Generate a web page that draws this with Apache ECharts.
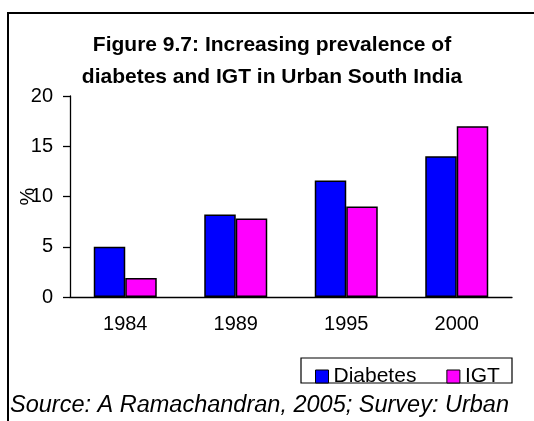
<!DOCTYPE html>
<html><head><meta charset="utf-8">
<script src="https://cdn.jsdelivr.net/npm/echarts@6/dist/echarts.min.js"></script>
<style>html,body{margin:0;padding:0;background:#fff}#c{width:534px;height:421px}</style>
</head><body><div id="c"></div>
<script>
const categories = ['1984', '1989', '1995', '2000'];
const diabetes = [5.0, 8.2, 11.6, 14.0];
const igt = [1.9, 7.8, 9.0, 17.0];
const seriesNames = ['Diabetes', 'IGT'];
const titleLines = ['Figure 9.7: Increasing prevalence of', 'diabetes and IGT in Urban South India'];
const sourceText = 'Source: A Ramachandran, 2005; Survey: Urban';

const chart = echarts.init(document.getElementById('c'));
const F = 'Liberation Sans, Arial, sans-serif';
chart.setOption({
  animation: false,
  backgroundColor: '#fff',
  title: {
    text: titleLines.join('\n'),
    left: 267, top: 24, textAlign: 'center',
    textStyle: { fontFamily: F, fontSize: 21, fontWeight: 'bold', color: '#000', lineHeight: 32 }
  },
  graphic: [
    { type: 'rect', shape: { x: 8, y: 13, width: 600, height: 500 }, style: { fill: 'none', stroke: '#000', lineWidth: 2 }, silent: true },
    { type: 'text', left: 10, top: 394, style: { text: sourceText, font: 'italic 23.5px ' + F, fill: '#000' } },
    { type: 'rect', shape: { x: 301, y: 358, width: 211, height: 25 }, style: { fill: '#fff', stroke: '#000', lineWidth: 1.2 }, silent: true, z: 0 }
  ],
  legend: {
    data: seriesNames,
    left: 310, top: 361,
    itemWidth: 13, itemHeight: 13, itemGap: 30,
    icon: 'rect',
    textStyle: { fontFamily: F, fontSize: 21, color: '#000' },
    itemStyle: { borderColor: '#000', borderWidth: 1 },
    z: 5
  },
  grid: { left: 70, right: 22, top: 96, bottom: 124, containLabel: false, outerBoundsMode: 'none' },
  xAxis: {
    type: 'category', data: categories,
    axisLine: { lineStyle: { color: '#000', width: 1.3 } },
    axisTick: { length: 7, lineStyle: { color: '#000', width: 1.3 } },
    axisLabel: { fontFamily: F, fontSize: 20, color: '#000', margin: 17 }
  },
  yAxis: {
    type: 'value', min: 0, max: 20, interval: 5,
    name: '%', nameLocation: 'middle', nameGap: 32, nameRotate: 90, nameMoveOverlap: false,
    nameTextStyle: { fontFamily: F, fontSize: 20, color: '#000' },
    axisLine: { show: true, lineStyle: { color: '#000', width: 1.3 } },
    axisTick: { show: true, length: 7, lineStyle: { color: '#000', width: 1.3 } },
    axisLabel: { fontFamily: F, fontSize: 20, color: '#000', margin: 17 },
    splitLine: { show: false }
  },
  series: [
    { name: seriesNames[0], type: 'bar', data: diabetes, barGap: '0%', barCategoryGap: '43%',
      itemStyle: { color: '#0000ff', borderColor: '#000', borderWidth: 1.5 } },
    { name: seriesNames[1], type: 'bar', data: igt,
      itemStyle: { color: '#ff00ff', borderColor: '#000', borderWidth: 1.5 } }
  ]
});
</script></body></html>
